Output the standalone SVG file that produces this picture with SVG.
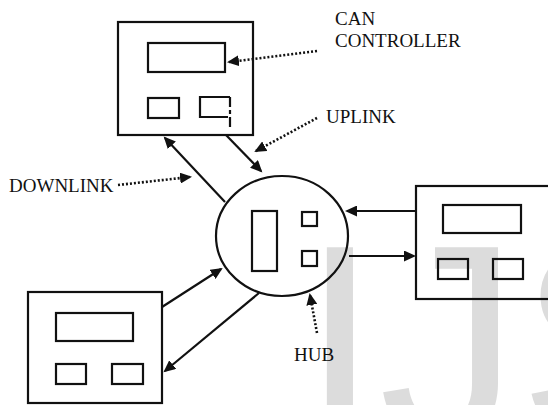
<svg xmlns="http://www.w3.org/2000/svg" width="548" height="405" viewBox="0 0 548 405">
  <style>
    .box { fill: none; stroke: #111; stroke-width: 2.2; }
    .part { fill: none; stroke: #111; stroke-width: 2.2; }
    .link { fill: none; stroke: #111; stroke-width: 2.2; marker-end: url(#head); }
    .ptr { fill: none; stroke: #111; stroke-width: 2.6; stroke-dasharray: 2 2; marker-end: url(#head); }
    .lbl { font-family: "Liberation Serif", "Times New Roman", serif; font-size: 19px; fill: #111; }
    .mark { font-family: "Liberation Sans", Arial, sans-serif; font-size: 280px; fill: #dcdcdc; }
  </style>
  <defs>
    <marker id="head" markerUnits="userSpaceOnUse" markerWidth="13" markerHeight="11" refX="10" refY="5.5" orient="auto">
      <path d="M0,0 L12,5.5 L0,11 Z" fill="#111"/>
    </marker>
  </defs>
  <rect width="548" height="405" fill="#fff"/>

  <!-- background watermark lettering -->
  <text class="mark" x="301" y="440">IJS</text>

  <!-- CAN node, top -->
  <g id="node-top">
    <rect class="box" x="118" y="22" width="135" height="113"/>
    <rect class="part" x="148" y="43" width="77" height="29"/>
    <rect class="part" x="148" y="98" width="31" height="20"/>
    <path class="part" d="M230,97 H200 V117 H228"/>
    <path class="part" d="M230,97 V107 M230,110 V114 M230,117 V127"/>
  </g>

  <!-- hub -->
  <g id="hub">
    <ellipse class="box" cx="282" cy="236" rx="66" ry="60"/>
    <rect class="part" x="252" y="211" width="25" height="60"/>
    <rect class="part" x="302" y="212" width="15" height="14"/>
    <rect class="part" x="302" y="251" width="15" height="15"/>
  </g>

  <!-- CAN node, right -->
  <g id="node-right">
    <rect class="box" x="416" y="186" width="140" height="113"/>
    <rect class="part" x="443" y="205" width="78" height="28"/>
    <rect class="part" x="438" y="259" width="30" height="20"/>
    <rect class="part" x="493" y="259" width="30" height="20"/>
  </g>

  <!-- CAN node, bottom left -->
  <g id="node-left">
    <rect class="box" x="28" y="292" width="134" height="111"/>
    <rect class="part" x="56" y="313" width="77" height="28"/>
    <rect class="part" x="56" y="364" width="30" height="20"/>
    <rect class="part" x="112" y="364" width="31" height="20"/>
  </g>

  <!-- links and label pointers -->
  <g id="connectors">
    <line class="link" x1="225" y1="202" x2="165" y2="138"/>
    <line class="link" x1="226" y1="135" x2="261" y2="171"/>
    <line class="link" x1="416" y1="211" x2="347" y2="211"/>
    <line class="link" x1="349" y1="256" x2="414" y2="256"/>
    <line class="link" x1="162" y1="307" x2="221" y2="269"/>
    <line class="link" x1="259" y1="293" x2="165" y2="371"/>

    <line class="ptr" x1="317" y1="51" x2="229" y2="62"/>
    <line class="ptr" x1="317" y1="118" x2="256" y2="151"/>
    <line class="ptr" x1="118" y1="185" x2="190" y2="177"/>
    <line class="ptr" x1="317" y1="333" x2="310" y2="295"/>
  </g>

  <g id="labels">
    <text class="lbl" x="335" y="25">CAN</text>
    <text class="lbl" x="335" y="47">CONTROLLER</text>
    <text class="lbl" x="326" y="123">UPLINK</text>
    <text class="lbl" x="9" y="192">DOWNLINK</text>
    <text class="lbl" x="294" y="361">HUB</text>
  </g>
</svg>
